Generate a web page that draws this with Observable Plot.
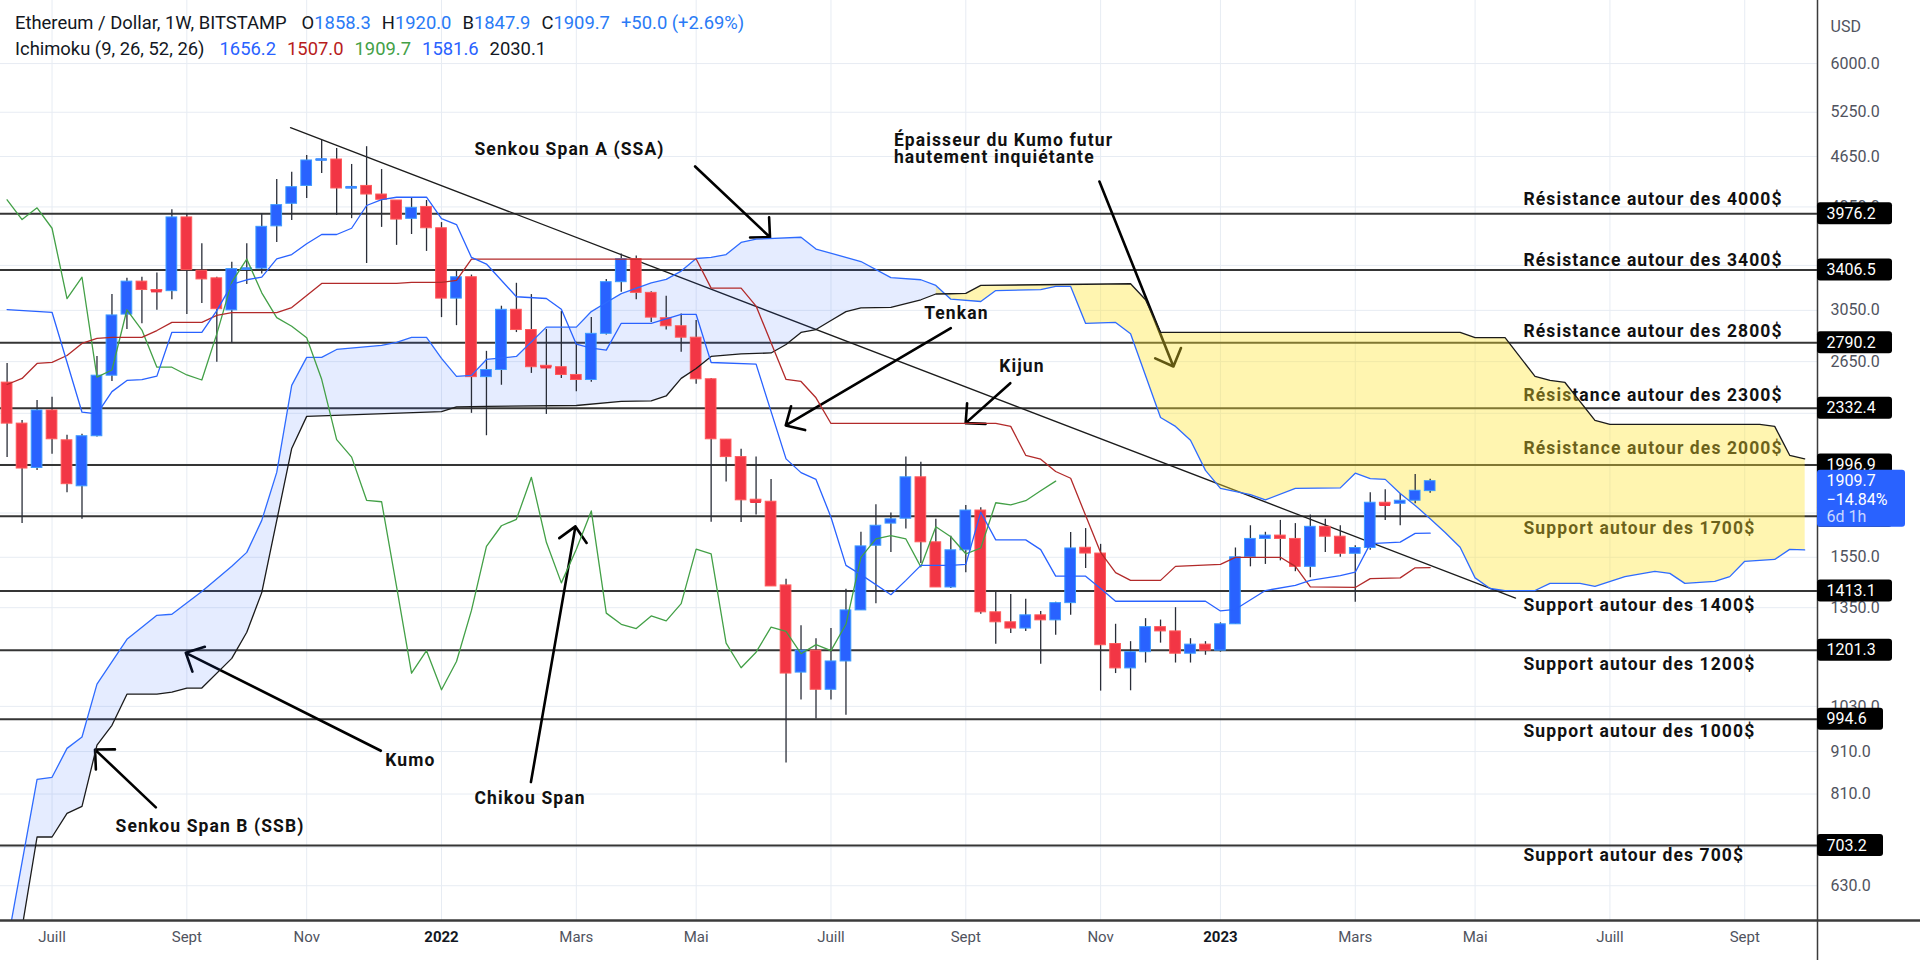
<!DOCTYPE html>
<html><head><meta charset="utf-8">
<script src="https://cdn.jsdelivr.net/npm/d3@7"></script>
<script src="https://cdn.jsdelivr.net/npm/@observablehq/plot@0.6"></script>
<style>
html,body{margin:0;padding:0;background:#fff;}
#wrap{position:relative;width:1920px;height:969px;overflow:hidden;font-family:Roboto,"Noto Sans",sans-serif;}
#hdr{position:absolute;left:15px;top:10px;font-size:18.4px;line-height:26px;color:#131722;white-space:pre;}
#hdr i{font-style:normal;}
#hdr .g{margin-left:11px;}
#hdr .g1{margin-left:15px;}
.bl{color:#2a7bf6;}
</style></head><body>
<div id="wrap"><div id="chart"></div>
<div id="hdr"><div><span>Ethereum / Dollar, 1W, BITSTAMP</span><span class="g1">O<i class="bl">1858.3</i></span><span class="g">H<i class="bl">1920.0</i></span><span class="g">B<i class="bl">1847.9</i></span><span class="g">C<i class="bl">1909.7</i></span><span class="g bl">+50.0 (+2.69%)</span></div><div><span>Ichimoku (9, 26, 52, 26)</span><span class="g1" style="color:#2962ff">1656.2</span><span class="g" style="color:#b71c1c">1507.0</span><span class="g" style="color:#43a047">1909.7</span><span class="g" style="color:#2962ff">1581.6</span><span class="g" style="color:#131722">2030.1</span></div></div>
</div>
<script>
// ---------- DATA (weekly candles, index 0 = week of 2021-06-14) ----------
const weekStart = "2021-06-14";
const opens = [2502,2236,1980,2318,2136,1883,2160,2550,3015,3300,3225,3215,3935,3400,3330,3050,3410,3420,3840,4085,4290,4600,4612,4260,4290,4190,4122,3920,4050,3820,3150,3340,2540,2590,3055,2890,2620,2610,2555,2520,2860,3295,3510,3200,2985,2920,2830,2525,2140,2040,1815,1805,1435,1130,1200,1078,1165,1340,1600,1700,1723,1930,1615,1427,1580,1762,1333,1297,1275,1322,1304,1367,1591,1566,1222,1143,1195,1280,1265,1190,1220,1200,1290,1550,1630,1645,1630,1510,1685,1640,1565,1590,1800,1795,1810,1858.3];
const highs = [2637,2256,2383,2403,2166,2172,2688,3186,3330,3340,3380,4020,3976,3660,3340,3480,3660,3976,4366,4454,4663,4858,4752,4550,4777,4487,4122,4145,4122,3880,3406,3360,2726,3085,3285,3185,2895,3040,2795,2990,3320,3560,3540,3210,3170,3020,2967,2530,2140,2085,2040,1919,1459,1285,1240,1275,1420,1660,1790,1750,2040,2011,1720,1642,1787,1776,1407,1400,1382,1336,1370,1659,1677,1606,1290,1230,1310,1305,1350,1240,1230,1295,1590,1690,1660,1715,1700,1740,1720,1690,1600,1850,1865,1845,1945,1920.0];
const lows = [2038,1700,1967,2056,1850,1720,2155,2510,2895,2940,3050,3140,3015,3108,2645,2785,3275,3370,3673,3902,4145,4440,3956,3922,3468,3829,3645,3755,3585,2990,2925,2300,2163,2484,2870,2566,2293,2530,2440,2505,2850,3205,3140,2950,2890,2720,2490,1706,1905,1705,1740,1431,882,1048,995,1048,1005,1340,1365,1570,1675,1524,1427,1423,1486,1326,1221,1258,1265,1156,1252,1322,1503,1074,1127,1075,1160,1225,1160,1160,1185,1195,1290,1510,1520,1535,1490,1465,1570,1550,1370,1580,1715,1690,1795,1847.9];
const closes = [2236,1977,2318,2142,1894,2160,2550,3008,3300,3225,3215,3935,3406,3320,3060,3415,3420,3835,4070,4275,4600,4612,4260,4275,4190,4130,3912,4040,3820,3150,3340,2540,2590,3055,2890,2610,2610,2555,2520,2860,3295,3510,3200,2990,2920,2830,2525,2142,2040,1812,1805,1431,1127,1200,1078,1165,1340,1597,1690,1720,1930,1615,1427,1580,1762,1333,1297,1275,1322,1304,1367,1588,1566,1218,1143,1195,1280,1265,1190,1220,1200,1290,1550,1630,1645,1630,1510,1685,1640,1565,1590,1800,1790,1810,1860,1909.7];

// Ichimoku lines as [week index, price] vertices
const tenkan = [[0,3057],[3,3034],[5,2307],[6,2296],[7,2441],[8,2517],[9,2522],[10,2547],[11,2872],[13,2872],[14,3048],[15,3275],[16,3317],[17,3341],[18,3513],[19,3554],[20,3661],[21,3755],[22,3755],[23,3820],[24,4066],[25,4133],[26,4159],[28,4159],[29,3923],[30,3859],[31,3526],[32,3463],[34,3166],[36,3151],[37,3059],[38,2780],[39,2750],[40,2735],[41,2944],[43,2944],[45,3016],[46,3016],[47,2644],[50,2632],[52,2030],[53,1955],[54,1919],[55,1730],[56,1516],[57,1478],[59,1399],[60,1455],[61,1516],[63,1516],[64,1520],[65,1754],[66,1626],[68,1626],[69,1583],[70,1472],[72,1472],[73,1423],[74,1374],[80,1374],[81,1338],[82,1344],[84,1415],[86,1435],[87,1455],[89,1474],[90,1488],[91,1609],[93,1616],[94,1655],[95,1656.2]];
const kijun = [[0,2489],[1,2531],[2,2637],[3,2645],[4,2695],[5,2786],[6,2824],[7,2832],[9,2832],[10,2886],[11,2951],[13,2951],[14,3008],[15,3032],[18,3032],[19,3074],[20,3177],[21,3284],[26,3284],[27,3293],[29,3293],[30,3311],[31,3511],[46,3511],[47,3242],[49,3242],[50,3086],[52,2524],[53,2510],[54,2400],[55,2237],[66,2237],[67,2219],[68,2050],[69,2028],[70,1961],[71,1925],[72,1738],[73,1571],[74,1486],[75,1455],[77,1455],[78,1512],[81,1520],[82,1550],[85,1550],[86,1512],[87,1429],[90,1427],[91,1462],[93,1465],[94,1506],[95,1507.0]];
const senkouA = [[0,536],[2,843],[3,848],[4,918],[5,947],[6,1095],[8,1238],[10,1322],[11,1326],[13,1411],[15,1512],[16,1571],[17,1715],[18,1956],[19,2483],[20,2681],[21,2681],[22,2740],[25,2771],[26,2794],[27,2832],[28,2832],[29,2674],[30,2545],[31,2552],[32,2666],[34,2688],[36,2913],[38,2913],[39,3040],[40,3117],[41,3193],[43,3288],[44,3320],[45,3397],[46,3516],[47,3526],[48,3554],[49,3674],[50,3708],[53,3727],[54,3608],[57,3487],[59,3336],[61,3317],[62,3266],[63,3145],[65,3125],[66,3220],[69,3229],[70,3257],[71,3257],[72,2943],[74,2951],[75,2861],[77,2274],[78,2219],[79,2136],[80,1967],[81,1872],[83,1840],[84,1814],[86,1872],[89,1875],[90,1952],[91,1923],[92,1919],[93,1846],[94,1787],[95,1723],[96,1659],[97,1593],[98,1465],[99,1423],[100,1415],[102,1415],[103,1443],[105,1443],[106,1431],[108,1470],[110,1491],[111,1483],[112,1443],[114,1451],[115,1470],[116,1533],[118,1541],[119,1584],[120,1581.6]];
const senkouB = [[0,438],[2,720],[3,720],[4,768],[5,783],[6,926],[7,978],[8,1065],[10,1065],[11,1071],[12,1083],[13,1083],[15,1175],[16,1262],[17,1407],[19,2089],[20,2281],[29,2311],[30,2341],[32,2344],[38,2350],[41,2377],[43,2380],[44,2412],[45,2531],[46,2601],[47,2688],[49,2707],[51,2714],[52,2778],[53,2871],[54,2894],[55,2967],[56,3040],[57,3071],[59,3076],[61,3140],[62,3190],[63,3192],[64,3195],[65,3266],[75,3281],[76,3140],[77,2872],[97,2872],[98,2830],[100,2830],[102,2545],[103,2517],[104,2503],[106,2256],[107,2231],[117,2231],[118,2219],[119,2050],[120,2030.1]];
// Chikou span values from week index 0 to 70
const chikou = [4130,3912,4040,3820,3150,3340,2540,2590,3055,2890,2610,2610,2555,2520,2860,3295,3510,3200,2990,2920,2830,2525,2140,2040,1812,1805,1430,1128,1200,1078,1165,1340,1597,1690,1720,1930,1615,1445,1585,1760,1330,1290,1275,1320,1302,1365,1585,1565,1225,1145,1195,1280,1265,1190,1220,1200,1290,1550,1630,1645,1630,1510,1685,1640,1565,1590,1800,1790,1810,1860,1909.7];

const levels = [3976.2, 3406.5, 2790.2, 2332.4, 1996.9, 1734.3, 1413.1, 1201.3, 994.6, 703.2];
const yTicks = [6000, 5250, 4650, 4050, 3450, 3050, 2650, 2300, 2000, 1750, 1550, 1350, 1200, 1030, 910, 810, 700, 630];
const yTickLabels = [6000, 5250, 4650, 4050, 3050, 2650, 1550, 1350, 1030, 910, 810, 630];
const xTickDates = ["2021-07-05","2021-09-06","2021-11-01","2022-01-03","2022-03-07","2022-05-02","2022-07-04","2022-09-05","2022-11-07","2023-01-02","2023-03-06","2023-05-01","2023-07-03","2023-09-04"];
const xTickLabels = ["Juill","Sept","Nov","2022","Mars","Mai","Juill","Sept","Nov","2023","Mars","Mai","Juill","Sept"];
const lastPrice = 1909.7;
const lastLines = ["1909.7", "\u221214.84%", "6d 1h"];

const trend = [[18.92, 5033], [100.7, 1386]];
const notes = [
  [31.2, 4748, "Senkou Span A (SSA)"],
  [59.2, 4858, "\u00c9paisseur du Kumo futur"],
  [59.2, 4641, "hautement inqui\u00e9tante"],
  [61.22, 3026, "Tenkan"],
  [66.23, 2618, "Kijun"],
  [25.25, 889, "Kumo"],
  [31.2, 801, "Chikou Span"],
  [7.24, 742, "Senkou Span B (SSB)"],
  [101.23, 4140, "R\u00e9sistance autour des 4000$"],
  [101.23, 3497, "R\u00e9sistance autour des 3400$"],
  [101.23, 2880, "R\u00e9sistance autour des 2800$"],
  [101.23, 2416, "R\u00e9sistance autour des 2300$"],
  [101.23, 2087, "R\u00e9sistance autour des 2000$"],
  [101.23, 1676, "Support autour des 1700$"],
  [101.23, 1359, "Support autour des 1400$"],
  [101.23, 1157, "Support autour des 1200$"],
  [101.23, 962, "Support autour des 1000$"],
  [101.23, 685, "Support autour des 700$"]
];
const arrows = [
  [45.93, 4525, 50.93, 3727],
  [72.92, 4342, 77.86, 2615],
  [63.0, 2905, 51.98, 2225],
  [66.97, 2498, 63.99, 2239],
  [24.95, 912, 11.93, 1193],
  [34.97, 837, 37.94, 1687],
  [9.93, 781, 5.87, 915]
];

// ---------- CHART ----------
const DAY = 864e5;
const t0 = new Date(weekStart + "T00:00:00Z");
const wk = i => new Date(+t0 + i * 7 * DAY);
const xDomain = [new Date("2021-06-10T22:00:00Z"), new Date("2023-10-08T00:00:00Z")];
const yDomain = [572.7, 7132];
const BLUE = "#2962ff", RED = "#f23645";

const candles = opens.map((o, i) => ({date: wk(i), o, h: highs[i], l: lows[i], c: closes[i]}));
const isUp = d => d.c >= d.o;
const doji = candles.filter(d => Math.abs(Math.log(d.o / d.c)) < 0.008);
const chik = chikou.map((v, i) => [i, v]);
const kumoBlue = senkouA.filter(d => d[0] <= 63).concat(senkouB.filter(d => d[0] <= 63).reverse());
const kumoYellow = senkouA.filter(d => d[0] >= 62).concat(senkouB.filter(d => d[0] >= 62).reverse());
const xTicks = xTickDates.map((d, i) => ({date: new Date(d + "T00:00:00Z"), label: xTickLabels[i], year: /^\d{4}$/.test(xTickLabels[i])}));
const XY = {x: d => wk(d[0]), y: d => d[1]};

const chart = Plot.plot({
  width: 1920, height: 969,
  marginLeft: 0, marginTop: 0, marginRight: 103, marginBottom: 49,
  style: {fontFamily: "Roboto, 'Noto Sans', sans-serif", background: "white", overflow: "visible"},
  x: {type: "time", domain: xDomain, axis: null},
  y: {type: "log", domain: yDomain, axis: null},
  marks: [
    Plot.ruleY(yTicks, {stroke: "#e7ecf3", strokeWidth: 1}),
    Plot.ruleX(xTicks, {x: "date", stroke: "#e7ecf3", strokeWidth: 1}),
    Plot.ruleY(levels, {stroke: "#353535", strokeWidth: 2}),
    Plot.line(trend, {...XY, stroke: "#1c1c1c", strokeWidth: 1.3}),
    Plot.arrow(arrows, {x1: d => wk(d[0]), y1: d => d[1], x2: d => wk(d[2]), y2: d => d[3], stroke: "#000", strokeWidth: 2.6, headLength: 11.5, headAngle: 88}),
    Plot.text(notes, {...XY, text: d => d[2], textAnchor: "start", fontWeight: 700, fontSize: 17.5, fill: "#111"}),
    // Kumo fills
    Plot.line(kumoBlue, {...XY, fill: "rgba(41,98,255,0.12)", stroke: "none", clip: true}),
    Plot.line(kumoYellow, {...XY, fill: "rgba(255,228,48,0.38)", stroke: "none", clip: true}),
    // candles
    Plot.ruleX(candles, {x: "date", y1: "l", y2: "h", stroke: "#2a2e39", strokeWidth: 1.3}),
    Plot.rect(candles, {x1: d => new Date(+d.date - 2.5 * DAY), x2: d => new Date(+d.date + 2.5 * DAY), y1: "o", y2: "c",
      fill: d => isUp(d) ? BLUE : RED, stroke: d => isUp(d) ? "#3d9bff" : "#ff5b5b", strokeWidth: 1}),
    Plot.ruleY(doji, {x1: d => new Date(+d.date - 2.5 * DAY), x2: d => new Date(+d.date + 2.5 * DAY), y: "c",
      stroke: d => isUp(d) ? "#3d8bff" : RED, strokeWidth: 2.5}),
    // Ichimoku lines
    Plot.line(senkouA, {...XY, stroke: "#2e6bff", strokeWidth: 1.3, clip: true}),
    Plot.line(senkouB, {...XY, stroke: "#1b1b1b", strokeWidth: 1.3, clip: true}),
    Plot.line(chik, {...XY, stroke: "#43a047", strokeWidth: 1.3, clip: true}),
    Plot.line(kijun, {...XY, stroke: "#b22a2a", strokeWidth: 1.3, clip: true}),
    Plot.line(tenkan, {...XY, stroke: "#2962ff", strokeWidth: 1.3, clip: true}),
    // axes
    Plot.ruleY([yDomain[0]], {stroke: "#3b3b3b", strokeWidth: 2.5, insetRight: -103}),
    Plot.ruleX([xDomain[1]], {stroke: "#3b3b3b", strokeWidth: 1.5, insetBottom: -40}),
    Plot.text(xTicks.filter(d => !d.year), {x: "date", text: "label", frameAnchor: "bottom", dy: 21, fill: "#50535e", fontSize: 15}),
    Plot.text(xTicks.filter(d => d.year), {x: "date", text: "label", frameAnchor: "bottom", dy: 21, fill: "#131722", fontSize: 15, fontWeight: 700}),
    Plot.text(["USD"], {frameAnchor: "top-right", dx: 13, dy: 20, text: d => d, textAnchor: "start", fill: "#50535e", fontSize: 16}),
    Plot.text(yTickLabels, {y: d => d, frameAnchor: "right", dx: 13, text: d => d.toFixed(1), textAnchor: "start", fill: "#50535e", fontSize: 16}),
    Plot.rect(levels.filter(v => v >= 1000), {x1: () => xDomain[1], x2: () => xDomain[1], y1: d => d, y2: d => d, insetTop: -11, insetBottom: -11, insetRight: -75, fill: "#000", rx: 3}),
    Plot.rect(levels.filter(v => v < 1000), {x1: () => xDomain[1], x2: () => xDomain[1], y1: d => d, y2: d => d, insetTop: -11, insetBottom: -11, insetRight: -66, fill: "#000", rx: 3}),
    Plot.text(levels, {y: d => d, frameAnchor: "right", dx: 9, text: d => d.toFixed(1), textAnchor: "start", fill: "#fff", fontSize: 16}),
    Plot.rect([lastPrice], {x1: () => xDomain[1], x2: () => xDomain[1], y1: d => d, y2: d => d, insetTop: -11, insetBottom: -46, insetRight: -88, fill: BLUE, rx: 3}),
    Plot.text([lastPrice], {y: d => d, frameAnchor: "right", dx: 9, text: () => lastLines[0], textAnchor: "start", fill: "#fff", fontSize: 16}),
    Plot.text([lastPrice], {y: d => d, frameAnchor: "right", dx: 9, dy: 19, text: () => lastLines[1], textAnchor: "start", fill: "#fff", fontSize: 16}),
    Plot.text([lastPrice], {y: d => d, frameAnchor: "right", dx: 9, dy: 36, text: () => lastLines[2], textAnchor: "start", fill: "rgba(255,255,255,0.75)", fontSize: 16})
  ]
});
// annotation texts are letter-spaced in the reference
const noteSet = new Set(notes.map(d => d[2]));
d3.select(chart).selectAll("text").filter(function() { return noteSet.has(this.textContent); })
  .attr("letter-spacing", "1.1px").style("letter-spacing", "1.1px");
document.getElementById("chart").appendChild(chart);
</script>
</body></html>
